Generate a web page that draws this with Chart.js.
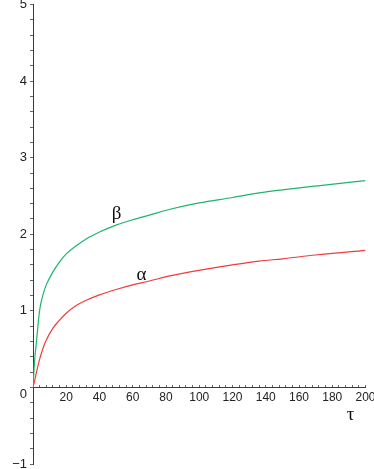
<!DOCTYPE html>
<html>
<head>
<meta charset="utf-8">
<script src="https://cdn.jsdelivr.net/npm/chart.js@4/dist/chart.umd.min.js"></script>
<style>
  html, body { margin: 0; padding: 0; background: #fff; }
  #wrap { width: 374px; height: 469px; }
</style>
</head>
<body>
<div id="wrap"><canvas id="c" width="374" height="469"></canvas></div>
<script>
// ---- data ----
const tau   = [0, 1, 2, 4, 6, 8, 12, 16, 20, 26, 32, 40, 50, 60, 70, 83, 100, 120, 136, 150, 170, 200];
const beta  = [0, 0.36, 0.58, 1.01, 1.21, 1.34, 1.51, 1.64, 1.745, 1.85, 1.94, 2.03, 2.12, 2.19, 2.25, 2.33, 2.41, 2.48, 2.54, 2.58, 2.63, 2.70];
const alpha = [0, 0.09, 0.19, 0.37, 0.51, 0.62, 0.775, 0.88, 0.97, 1.07, 1.14, 1.21, 1.28, 1.34, 1.39, 1.46, 1.53, 1.60, 1.65, 1.68, 1.73, 1.79];
const seriesNames = ['β', 'α'];
const xAxisTitle = 'τ';
// label anchors in data units (τ, value)
const labelAnchors = [
  { text: 'β', x: 50.3, y: 2.27 },
  { text: 'α', x: 65.2, y: 1.47 },
  { text: xAxisTitle, x: 191, y: -0.36 }
];

const GREEN = '#1fb46a';
const RED = '#f03c3c';
const AXIS = '#3a3a3a';
const TICK = '#666';

const toPts = ys => tau.map((t, i) => ({ x: t, y: ys[i] }));

const isInt = v => Math.abs(v - Math.round(v)) < 1e-6;

const textLabels = {
  id: 'textLabels',
  afterDatasetsDraw(chart) {
    const { ctx, scales: { x, y } } = chart;
    ctx.save();
    ctx.fillStyle = '#111';
    ctx.font = '19px "Liberation Serif", "DejaVu Serif", serif';
    ctx.textAlign = 'center';
    ctx.textBaseline = 'middle';
    labelAnchors.forEach(a => {
      ctx.fillText(a.text, x.getPixelForValue(a.x), y.getPixelForValue(a.y));
    });
    ctx.restore();
  }
};

new Chart(document.getElementById('c'), {
  type: 'line',
  data: {
    datasets: [
      { label: seriesNames[0], data: toPts(beta), borderColor: GREEN, borderWidth: 1.2,
        pointRadius: 0, fill: false, cubicInterpolationMode: 'monotone' },
      { label: seriesNames[1], data: toPts(alpha), borderColor: RED, borderWidth: 1.2,
        pointRadius: 0, fill: false, cubicInterpolationMode: 'monotone' }
    ]
  },
  options: {
    responsive: false,
    animation: false,
    layout: { padding: { left: 0, right: 8.5, top: 4.5, bottom: 4.9 } },
    plugins: { legend: { display: false }, tooltip: { enabled: false } },
    scales: {
      x: {
        type: 'linear',
        position: { y: 0 },
        min: 0, max: 200,
        afterFit(s) { s.height = 0; s.paddingLeft = 0; s.paddingRight = 0; s.paddingTop = 0; s.paddingBottom = 0; },
        border: { display: true, color: AXIS, width: 1 },
        grid: { display: true, drawOnChartArea: false, drawTicks: true, tickLength: -3, color: TICK },
        ticks: {
          stepSize: 4,
          autoSkip: false,
          maxRotation: 0,
          padding: 6,
          color: '#222',
          font: { family: '"Liberation Sans", Arial, sans-serif', size: 12 },
          callback: v => (v !== 0 && Math.abs(v % 20) < 1e-6) ? String(v) : ''
        }
      },
      y: {
        type: 'linear',
        position: 'left',
        min: -1, max: 5,
        afterFit(s) { s.width = 33; s.paddingTop = 0; s.paddingBottom = 0; },
        border: { display: true, color: AXIS, width: 1 },
        grid: { display: true, drawOnChartArea: false, drawTicks: true, tickLength: 3, color: TICK },
        ticks: {
          stepSize: 0.2,
          autoSkip: false,
          padding: 3,
          color: '#222',
          font: { family: '"Liberation Sans", Arial, sans-serif', size: 13, lineHeight: 1.0 },
          callback: v => {
            if (!isInt(v)) return '';
            const r = Math.round(v);
            if (r === 0) return ['', '0'];
            return r < 0 ? '\u2212' + Math.abs(r) : String(r);
          }
        }
      }
    }
  },
  plugins: [textLabels]
});
</script>
</body>
</html>
